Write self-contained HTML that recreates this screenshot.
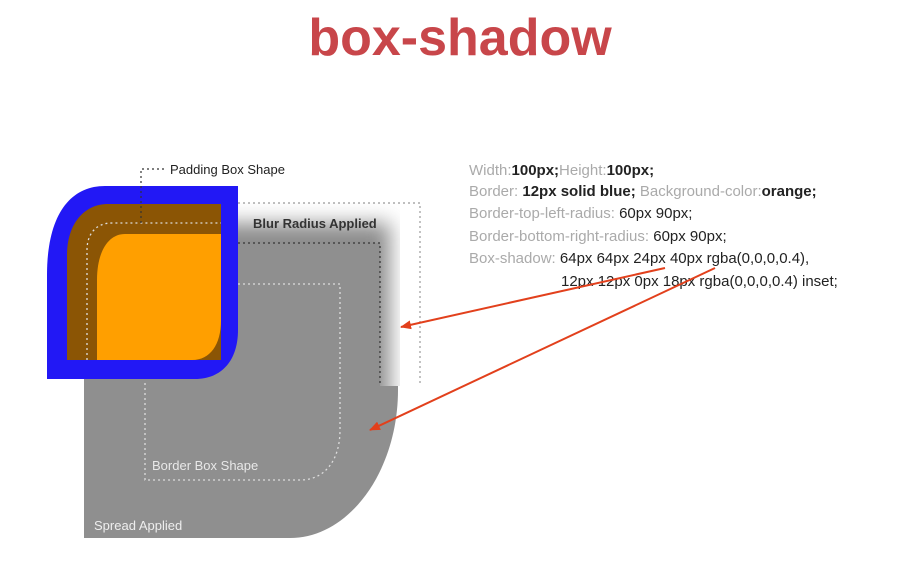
<!DOCTYPE html>
<html><head><meta charset="utf-8"><style>
html,body{margin:0;padding:0;background:#fff;}
body{width:919px;height:581px;overflow:hidden;position:relative;font-family:"Liberation Sans",sans-serif;}
</style></head><body>
<svg width="919" height="581" viewBox="0 0 919 581" xmlns="http://www.w3.org/2000/svg" style="position:absolute;left:0;top:0">
<defs>
<filter id="bl" x="-50%" y="-50%" width="200%" height="200%"><feGaussianBlur stdDeviation="10"/></filter>
<clipPath id="cb"><rect x="238" y="203" width="162" height="183"/></clipPath>
<marker id="ah" markerWidth="11" markerHeight="9" refX="10" refY="4.5" orient="auto" markerUnits="userSpaceOnUse"><path d="M0,0 L11,4.5 L0,9 Z" fill="#e2401c"/></marker>
</defs>
<text x="460" y="55" text-anchor="middle" font-family="Liberation Sans" font-weight="bold" font-size="52" fill="#c8464a">box-shadow</text>
<!-- blur -->
<g clip-path="url(#cb)"><rect x="180" y="223" width="210" height="220" fill="#8c8c8c" filter="url(#bl)"/></g>
<!-- spread shape -->
<path d="M84,243 L380,243 L380,386 L398,386 L398,390 C398,470 350,538 290,538 L84,538 Z" fill="#8f8f8f"/>
<!-- dotted outlines -->
<path d="M238,203 L420,203 L420,386" fill="none" stroke="#999" stroke-width="1.2" stroke-dasharray="2,3"/>
<path d="M238,243 L380,243 L380,386" fill="none" stroke="#444" stroke-width="1.5" stroke-dasharray="2,3"/>
<path d="M238,284 L340,284 L340,430 C340,460 325,480 300,480 L145,480 L145,380" fill="none" stroke="#ddd" stroke-width="1.3" stroke-dasharray="2,3"/>
<!-- blue box -->
<path d="M238,186 L238,330 C238,360 222,379 195,379 L47,379 L47,275 C47,215 70,186 105,186 Z" fill="#2218f5"/>
<path d="M221,204 L221,360 L67,360 L67,255 C67,224 84,204 108,204 Z" fill="#8b5505"/>
<path d="M221,234 L221,320 C221,345 210,360 192,360 L97,360 L97,280 C97,252 108,234 125,234 Z" fill="#ff9f00"/>
<path d="M87,360 L87,250 C87,235 95,223 112,223 L221,223" fill="none" stroke="#ddd" stroke-width="1.3" stroke-dasharray="2,3"/>
<path d="M141,223 L141,169 L166,169" fill="none" stroke="#333" stroke-width="1.2" stroke-dasharray="2,3"/>
<!-- labels -->
<text x="170" y="174" font-size="13" fill="#222">Padding Box Shape</text>
<text x="253" y="228" font-size="13" font-weight="bold" fill="#333">Blur Radius Applied</text>
<text x="152" y="470" font-size="13" fill="#e8e8e8">Border Box Shape</text>
<text x="94" y="530" font-size="13" fill="#eee">Spread Applied</text>
<!-- code -->
<g font-size="15" fill="#222">
<text x="469" y="175"><tspan fill="#aaa">Width:</tspan><tspan font-weight="bold">100px;</tspan><tspan fill="#aaa">Height:</tspan><tspan font-weight="bold">100px;</tspan></text>
<text x="469" y="196"><tspan fill="#aaa">Border: </tspan><tspan font-weight="bold">12px solid blue;</tspan> <tspan fill="#aaa">Background-color:</tspan><tspan font-weight="bold">orange;</tspan></text>
<text x="469" y="218"><tspan fill="#aaa">Border-top-left-radius: </tspan> 60px 90px;</text>
<text x="469" y="241"><tspan fill="#aaa">Border-bottom-right-radius: </tspan> 60px 90px;</text>
<text x="469" y="263"><tspan fill="#aaa">Box-shadow:</tspan> 64px 64px 24px 40px rgba(0,0,0,0.4),</text>
<text x="561" y="286">12px 12px 0px 18px rgba(0,0,0,0.4) inset;</text>
</g>
<!-- arrows -->
<line x1="665" y1="268" x2="401" y2="327" stroke="#e2401c" stroke-width="2" marker-end="url(#ah)"/>
<line x1="715" y1="268" x2="370" y2="430" stroke="#e2401c" stroke-width="2" marker-end="url(#ah)"/>
</svg>
</body></html>
